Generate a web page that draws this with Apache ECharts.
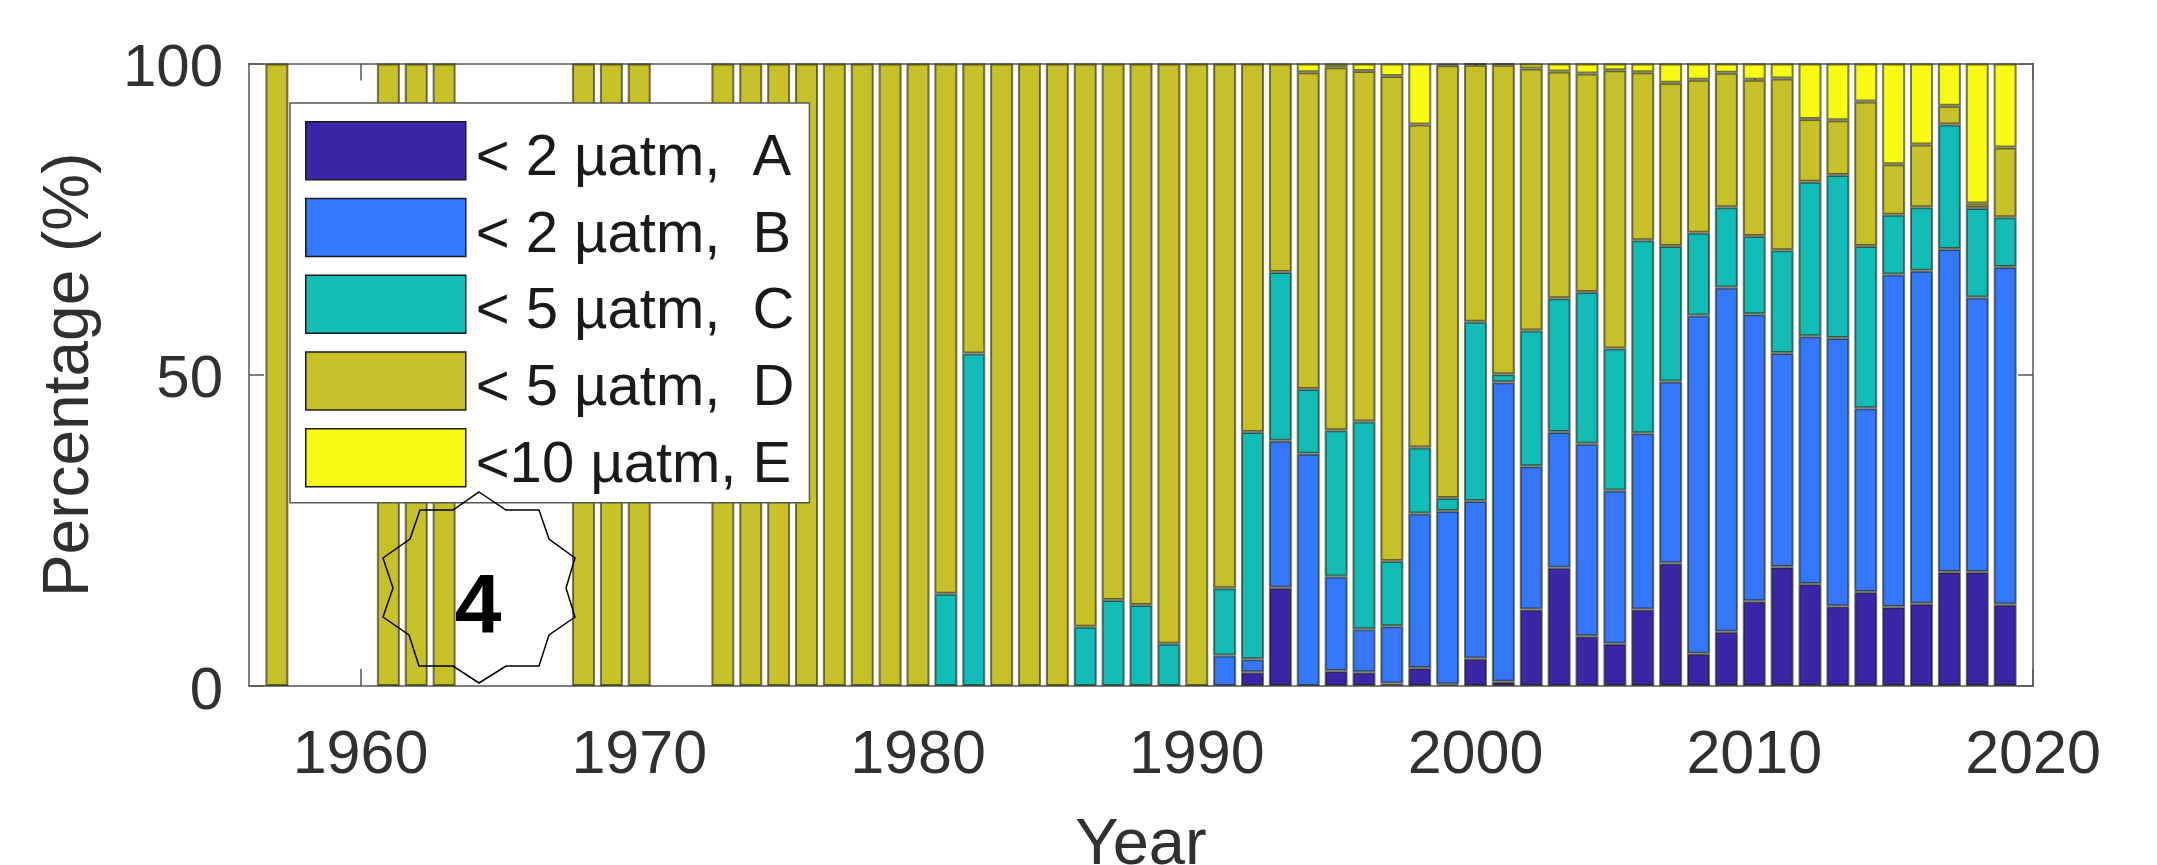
<!DOCTYPE html>
<html><head><meta charset="utf-8">
<style>html,body{margin:0;padding:0;background:#fff}#c{width:2157px;height:865px}</style>
<script src="https://cdn.jsdelivr.net/npm/echarts@6/dist/echarts.min.js"></script>
</head><body><div id="c"></div>
<script>
const years = ['1956','1957','1958','1959','1960','1961','1962','1963','1964','1965','1966','1967','1968','1969','1970','1971','1972','1973','1974','1975','1976','1977','1978','1979','1980','1981','1982','1983','1984','1985','1986','1987','1988','1989','1990','1991','1992','1993','1994','1995','1996','1997','1998','1999','2000','2001','2002','2003','2004','2005','2006','2007','2008','2009','2010','2011','2012','2013','2014','2015','2016','2017','2018','2019','2020'];
const _ = null;
const pre = [_,_,_,_,_,_,_,_,_,_,_,_,_,_,_,_,_,_,_,_,_,_,_,_,_];
const seriesA = [...pre, _,_,_,_,_,_,_,_,_,_, _,2.2,15.8,_,2.4,2.2,0.4,2.9,0.3,4.4, 0.7,12.3,19.0,8.0,6.8,12.3,19.7,5.2,8.7,13.6, 19.1,16.4,12.8,15.1,12.7,13.2,18.3,18.3,13.1,_];
const seriesB = [...pre, _,_,_,_,_,_,_,_,_,_, 4.9,2.1,23.6,37.3,15.2,6.9,9.2,24.8,27.8,25.3, 48.1,23.0,21.8,30.9,24.6,28.3,29.2,54.3,55.3,46.1, 34.4,39.8,43.1,29.5,53.4,53.5,51.9,44.1,54.2,_];
const seriesC = [...pre, 14.8,53.4,_,_,_,9.5,13.8,13.0,6.8,_, 10.8,36.5,27.1,10.4,23.5,33.4,10.5,10.6,2.1,28.8, 1.3,21.8,21.5,24.4,22.8,31.0,21.8,13.3,12.9,12.6, 16.5,24.8,26.2,26.1,9.6,10.2,20.0,14.4,8.0,_];
const seriesD = [_,100,_,_,_,100,100,100,_,_,_,_,100,100,100,_,_,100,100,100,100,100,100,100,100, 85.2,46.6,100,100,100,90.5,86.2,87.0,93.2,100, 84.3,59.2,33.5,50.9,58.3,56.3,77.9,51.9,69.5,41.3, 49.7,42.1,36.4,35.1,44.7,27.0,26.2,24.6,21.6,25.1, 27.6,10.1,8.8,23.2,8.1,10.1,3.0,0.7,11.2,_];
const seriesE = [...pre, _,_,_,_,_,_,_,_,_,_, _,_,_,1.4,0.6,1.2,2.0,9.8,0.3,0.2, 0.2,0.8,1.3,1.6,1.1,1.4,3.1,2.6,1.5,2.6, 2.4,8.9,9.1,6.1,16.2,13.0,6.8,22.5,13.5,_];
const seriesNames = ['< 2 µatm,  A','< 2 µatm,  B','< 5 µatm,  C','< 5 µatm,  D','<10 µatm, E'];
const colors = ['#3c26a8','#3479fd','#12bdb9','#c8c028','#f9fb15'];
const starPoints = [[0,-96],[27,-78],[60,-78],[70,-49],[96,-30],[87,0],[96,29],[70,47],[60,78],[27,78],[0,95],[-26,78],[-60,78],[-70,47],[-96,29],[-86,0],[-96,-30],[-69,-49],[-59,-78],[-26,-78]];

const font = '"Liberation Sans", Arial, sans-serif';
const tc = '#303030', lc = '#555';
const tenth = (i, v) => Number(v) % 10 === 0;
const values = [seriesA, seriesB, seriesC, seriesD, seriesE];
const chart = echarts.init(document.getElementById('c'), null, {renderer:'canvas'});
chart.setOption({
  animation:false,
  backgroundColor:'#fff',
  grid:{left:249,right:124,top:63.5,bottom:179,containLabel:false,outerBoundsMode:'none'},
  legend:{
    left:290, top:103, orient:'vertical', icon:'rect',
    itemWidth:160, itemHeight:58, itemGap:10,
    padding:[18,15,8,15],
    backgroundColor:'#fff', borderColor:'#555', borderWidth:1.5,
    itemStyle:{borderColor:'#1a1a1a',borderWidth:1.5},
    formatter:n=>'{t|'+n+'}',
    textStyle:{padding:[16,0,0,5],rich:{t:{fontFamily:font,fontSize:58,lineHeight:42,color:'#1a1a1a'}}},
    data:seriesNames, selectedMode:false
  },
  xAxis:[
    {type:'category',data:years,boundaryGap:false,position:'bottom',
     axisLine:{onZero:false,lineStyle:{color:lc,width:1.5}},
     axisTick:{show:true,inside:true,length:17,interval:tenth,lineStyle:{color:lc,width:1.5}},
     axisLabel:{interval:tenth,fontFamily:font,fontSize:61,color:tc,margin:40},
     splitLine:{show:false},
     name:'Year',nameLocation:'middle',nameGap:128,
     nameTextStyle:{fontFamily:font,fontSize:65,color:tc}},
    {type:'category',data:years,boundaryGap:false,position:'top',
     axisLine:{onZero:false,lineStyle:{color:lc,width:1.5}},
     axisTick:{show:true,inside:true,length:17,interval:tenth,lineStyle:{color:lc,width:1.5}},
     axisLabel:{show:false,interval:tenth},splitLine:{show:false}}
  ],
  yAxis:[
    {type:'value',min:0,max:100,interval:50,position:'left',
     axisLine:{show:true,onZero:false,lineStyle:{color:lc,width:1.5}},
     axisTick:{show:true,inside:true,length:15,lineStyle:{color:lc,width:1.5}},
     axisLabel:{fontFamily:font,fontSize:60,color:tc,margin:26,verticalAlign:'top',lineHeight:12},
     splitLine:{show:false},
     name:'Percentage (%)',nameLocation:'middle',nameGap:147,
     nameTextStyle:{fontFamily:font,fontSize:64,color:tc}},
    {type:'value',min:0,max:100,interval:50,position:'right',
     axisLine:{show:true,onZero:false,lineStyle:{color:lc,width:1.5}},
     axisTick:{show:true,inside:true,length:15,lineStyle:{color:lc,width:1.5}},
     axisLabel:{show:false},splitLine:{show:false}}
  ],
  series:[
    ...seriesNames.map((n,i)=>({
      name:n,type:'bar',stack:'total',barWidth:23,
      data:values[i],
      itemStyle:{color:colors[i],borderColor:'rgba(30,30,10,0.6)',borderWidth:2}
    })),
    {name:'box',type:'line',xAxisIndex:1,yAxisIndex:1,data:[],silent:true}
  ],
  graphic:[
    {type:'polygon',x:479,y:588,z:100,shape:{points:starPoints},
     style:{fill:'none',stroke:'#000',lineWidth:1.5}},
    {type:'text',x:478,y:610,z:101,
     style:{text:'4',fontFamily:font,fontWeight:'bold',fontSize:84,fill:'#000',textAlign:'center',textVerticalAlign:'middle'}}
  ]
});
</script></body></html>
